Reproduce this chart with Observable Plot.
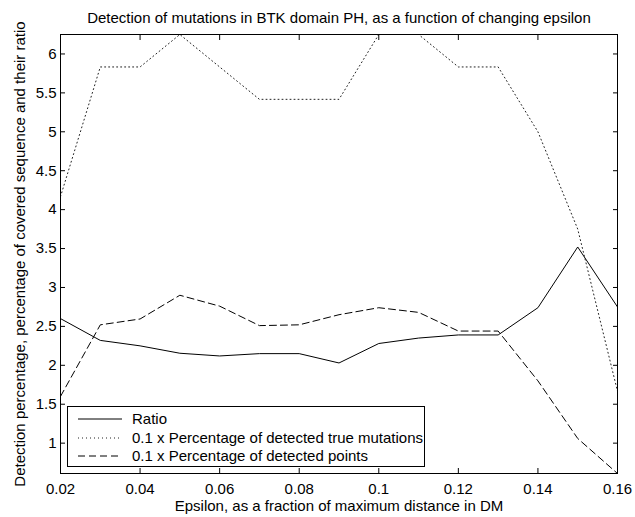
<!DOCTYPE html>
<html>
<head>
<meta charset="utf-8">
<script src="https://cdn.jsdelivr.net/npm/d3@7"></script>
<script src="https://cdn.jsdelivr.net/npm/@observablehq/plot@0.6"></script>
<style>
  body { margin: 0; background: #fff; font-family: "Liberation Sans", Arial, Helvetica, sans-serif; }
  #wrap { position: relative; width: 635px; height: 517px; }
  #legend { position: absolute; left: 67px; top: 406px; width: 358px; height: 61px;
    border: 1px solid #000; background: #fff; box-sizing: border-box; font-size: 15px; }
  #legend .row { position: absolute; left: 0; height: 18px; width: 100%; }
  #legend svg { position: absolute; left: 10px; top: 0; }
  #legend span { position: absolute; left: 64px; top: 0; line-height: 18px; white-space: nowrap; }
</style>
</head>
<body>
<div id="wrap"></div>
<script>
const epsilon = [0.02, 0.03, 0.04, 0.05, 0.06, 0.07, 0.08, 0.09, 0.10, 0.11, 0.12, 0.13, 0.14, 0.15, 0.16];
const ratio = [2.60, 2.32, 2.25, 2.155, 2.12, 2.15, 2.15, 2.03, 2.28, 2.35, 2.39, 2.39, 2.74, 3.52, 2.75];
const trueMutations = [4.167, 5.833, 5.833, 6.25, 5.833, 5.417, 5.417, 5.417, 6.25, 6.25, 5.833, 5.833, 5.0, 3.75, 1.667];
const detectedPoints = [1.60, 2.52, 2.595, 2.90, 2.76, 2.51, 2.52, 2.65, 2.74, 2.68, 2.44, 2.44, 1.80, 1.06, 0.61];
const seriesNames = ["Ratio", "0.1 x Percentage of detected true mutations", "0.1 x Percentage of detected points"];
const seriesDash = [null, "1,3", "7,4"];
const xTicks = [0.02, 0.04, 0.06, 0.08, 0.10, 0.12, 0.14, 0.16];
const yTicks = [1, 1.5, 2, 2.5, 3, 3.5, 4, 4.5, 5, 5.5, 6];
const title = "Detection of mutations in BTK domain PH, as a function of changing epsilon";
const xLabel = "Epsilon, as a fraction of maximum distance in DM";
const yLabel = "Detection percentage, percentage of covered sequence and their ratio";

const seriesValues = [ratio, trueMutations, detectedPoints];
const rows = [];
seriesNames.forEach((name, i) => epsilon.forEach((e, j) => rows.push({series: name, x: e, y: seriesValues[i][j]})));

const lineMarks = seriesNames.map((name, i) =>
  Plot.line(rows.filter(r => r.series === name), {
    x: "x", y: "y", stroke: i === 1 ? "#222" : "#000", strokeWidth: 1,
    strokeDasharray: seriesDash[i] ?? undefined, clip: true
  })
);

const fmt = d => String(+d.toFixed(4));
const FS = 15;

const chart = Plot.plot({
  width: 635, height: 517,
  marginLeft: 60, marginRight: 18, marginTop: 34, marginBottom: 44,
  style: { fontFamily: "'Liberation Sans', Arial, Helvetica, sans-serif", fontSize: FS + "px", background: "#fff", color: "#000" },
  x: { domain: [0.02, 0.16] },
  y: { domain: [0.61, 6.25] },
  marks: [
    ...lineMarks,
    Plot.frame({ stroke: "#000", strokeWidth: 1 }),
    Plot.axisX({ anchor: "bottom", ticks: xTicks, tickSize: -5, fill: "none", label: null }),
    Plot.axisX({ anchor: "top", ticks: xTicks, tickSize: -5, fill: "none", label: null }),
    Plot.axisX({ anchor: "bottom", ticks: xTicks, tickSize: 0, tickPadding: 10, tickFormat: fmt, label: null, fontSize: FS }),
    Plot.axisY({ anchor: "left", ticks: yTicks, tickSize: -5, fill: "none", label: null }),
    Plot.axisY({ anchor: "right", ticks: yTicks, tickSize: -5, fill: "none", label: null }),
    Plot.axisY({ anchor: "left", ticks: yTicks, tickSize: 0, tickPadding: 4, tickFormat: fmt, label: null, fontSize: FS }),
    Plot.text([title], { text: d => d, frameAnchor: "top", dy: -16, lineAnchor: "middle", textAnchor: "middle", fontSize: FS }),
    Plot.text([xLabel], { text: d => d, frameAnchor: "bottom", dy: 33, lineAnchor: "middle", textAnchor: "middle", fontSize: FS }),
    Plot.text([yLabel], { text: d => d, frameAnchor: "left", dx: -40, rotate: -90, lineAnchor: "middle", textAnchor: "middle", fontSize: FS })
  ]
});

const wrap = document.getElementById("wrap");
wrap.appendChild(chart);

const legend = document.createElement("div");
legend.id = "legend";
const rowTops = [3, 22, 40];
seriesNames.forEach((name, i) => {
  const row = document.createElement("div");
  row.className = "row";
  row.style.top = rowTops[i] + "px";
  const dash = seriesDash[i] ? ` stroke-dasharray="${seriesDash[i]}"` : "";
  row.innerHTML = `<svg width="46" height="18"><line x1="0" x2="44" y1="9" y2="9" stroke="${i === 1 ? "#222" : "#000"}" stroke-width="1"${dash}/></svg><span>${name}</span>`;
  legend.appendChild(row);
});
wrap.appendChild(legend);
</script>
</body>
</html>
